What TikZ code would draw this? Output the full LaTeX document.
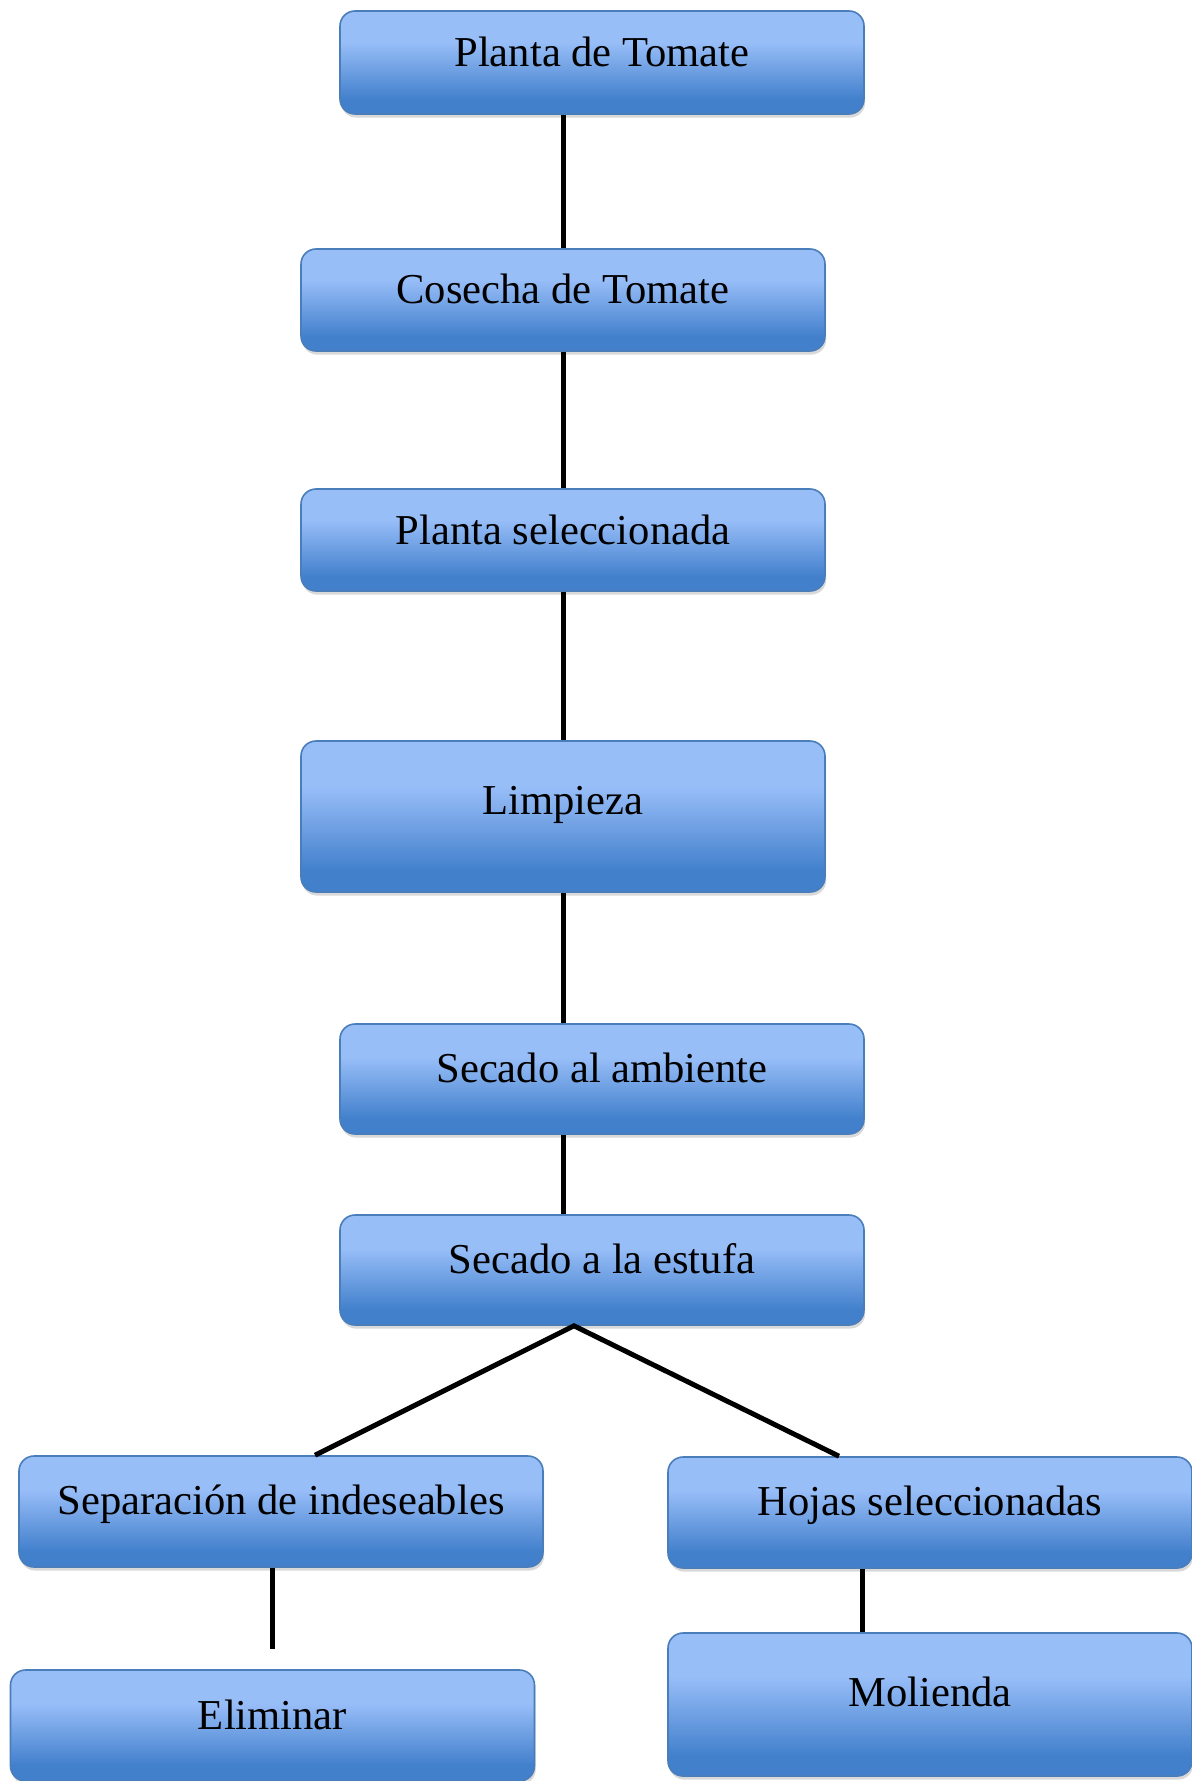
\documentclass[tikz,border=0pt]{standalone}
\usepackage{fontspec}
\setmainfont{Liberation Serif}
\usepackage{tikz}
\usetikzlibrary{shadows}
\definecolor{boxtop}{HTML}{98BEF8}
\definecolor{boxbot}{HTML}{4280CC}
\definecolor{boxedge}{HTML}{4A7EBB}
\pgfdeclareverticalshading{stageshade}{100bp}{color(0bp)=(boxbot); color(32bp)=(boxbot); color(60bp)=(boxtop); color(100bp)=(boxtop)}

\begin{document}
\begin{tikzpicture}[x=0.5pt, y=-0.5pt,
    stage/.style 2 args={rectangle, rounded corners=7.5pt, minimum width=262pt, inner xsep=0pt, inner ysep=0pt, text height=#1, text depth=#2, draw=boxedge, line width=0.8pt, shade, shading=stageshade, drop shadow={shadow xshift=0.6pt, shadow yshift=-1.8pt, opacity=0.3}, font=\fontsize{21.3}{25}\selectfont},
    link/.style={-, color=black, line width=2.5pt}
]
    \useasboundingbox (0,0) rectangle (1192,1781);

    \node[stage={28pt}{23.5pt}] (planta) at (602, 62.5) {Planta de Tomate};
    \node[stage={27.5pt}{23.5pt}] (cosecha) at (563, 300) {Cosecha de Tomate};
    \node[stage={27.5pt}{23.5pt}] (elegida) at (563, 540) {Planta seleccionada};
    \node[stage={36.5pt}{39pt}] (limpieza) at (563, 816.5) {Limpieza};
    \node[stage={29pt}{26pt}] (ambiente) at (602, 1079) {Secado al ambiente};
    \node[stage={29pt}{26pt}] (estufa) at (602, 1270) {Secado a la estufa};
    \node[stage={29pt}{26.5pt}] (separa) at (281, 1511.5) {Separación de indeseables};
    \node[stage={29pt}{26.5pt}] (hojas) at (930, 1512.5) {Hojas seleccionadas};
    \node[stage={29.5pt}{26pt}] (eliminar) at (272.5, 1725.5) {Eliminar};
    \node[stage={36.5pt}{35pt}] (molienda) at (930, 1704.5) {Molienda};

    \coordinate (fork) at ([xshift=-14pt]estufa.south);
    \coordinate (cut) at ([yshift=10pt]eliminar.north);

    \draw[link] (planta.south -| cosecha.north) -- (cosecha.north);
    \draw[link] (cosecha) -- (elegida);
    \draw[link] (elegida) -- (limpieza);
    \draw[link] (limpieza.south) -- (limpieza.south |- ambiente.north);
    \draw[link] (ambiente.south -| limpieza.south) -- (limpieza.south |- estufa.north);
    \draw[link] ([xshift=17pt]separa.north) -- (fork) -- ([xshift=-45.5pt]hojas.north);
    \draw[link] (separa.south -| cut) -- (cut);
    \draw[link] ([xshift=-34pt]hojas.south) -- ([xshift=-34pt]molienda.north);
\end{tikzpicture}
\end{document}
